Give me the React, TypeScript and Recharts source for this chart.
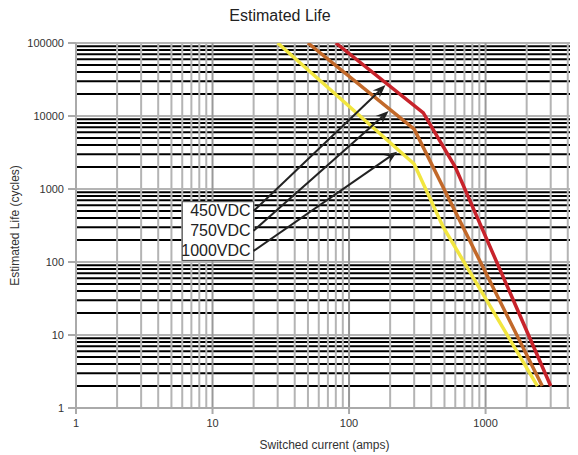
import React from "react";
import {
  LineChart,
  Line,
  XAxis,
  YAxis,
  ReferenceLine,
  ReferenceArea,
  ReferenceDot,
} from "recharts";

// switched current (amps) / estimated life (cycles)
const amps450 = [80, 350, 600, 3000];
const life450 = [100000, 11000, 2000, 2];
const amps750 = [50, 300, 2600];
const life750 = [100000, 6600, 2];
const amps1000 = [30, 300, 490, 2400];
const life1000 = [100000, 2200, 300, 2];

const seriesNames = ["450VDC", "750VDC", "1000VDC"];
const seriesColors = ["#c8232b", "#c2692a", "#f2e640"];

// where the callout arrows start (label) and end (on the curve)
const arrowFrom = [
  [20, 500],
  [20, 268],
  [20, 142],
];
const arrowTo = [
  [185, 26500],
  [195, 11700],
  [225, 3250],
];
const calloutBox = { x1: 6, x2: 20, y1: 105, y2: 670 };

const xTicks = [1, 10, 100, 1000];
const yTicks = [1, 10, 100, 1000, 10000, 100000];
const steps = [2, 3, 4, 5, 6, 7, 8, 9];
const xDecades = [1, 10, 100, 1000];
const yDecades = [1, 10, 100, 1000, 10000];

const xMinor = xDecades.flatMap((d) => steps.map((s) => s * d));
const yMinor = yDecades.flatMap((d) => steps.map((s) => s * d));

const toPoints = (xs: number[], ys: number[]) => xs.map((x, i) => ({ x, y: ys[i] }));
const series = [
  toPoints(amps450, life450),
  toPoints(amps750, life750),
  toPoints(amps1000, life1000),
];

const font = "'Liberation Sans', Arial, sans-serif";

const Arrow = (p: any) => {
  const { x1, y1, x2, y2 } = p;
  const a = Math.atan2(y2 - y1, x2 - x1);
  const len = 13;
  const half = 5;
  const c = Math.cos(a);
  const s = Math.sin(a);
  const bx = x2 - len * c;
  const by = y2 - len * s;
  const nx = x2 - len * 0.65 * c;
  const ny = y2 - len * 0.65 * s;
  const pts = [
    [x2, y2],
    [bx - half * s, by + half * c],
    [nx, ny],
    [bx + half * s, by - half * c],
  ]
    .map((q) => q.join(","))
    .join(" ");
  return (
    <g>
      <line x1={x1} y1={y1} x2={nx} y2={ny} stroke="#222" strokeWidth={2} />
      <polygon points={pts} fill="#222" />
    </g>
  );
};

export default function App() {
  return (
    <div style={{ position: "relative", width: 570, height: 447, overflow: "hidden", fontFamily: font }}>
      <div
        style={{
          position: "absolute",
          left: 172,
          top: 0,
          width: 200,
          textAlign: "center",
          fontSize: 16,
          lineHeight: "16px",
          color: "#222",
        }}
      >
        Estimated Life
      </div>
      <LineChart width={573} height={447} margin={{ top: 35, right: 0, bottom: 0, left: 0 }}>
        <XAxis
          type="number"
          dataKey="x"
          scale="log"
          domain={[1, 5000]}
          ticks={xTicks}
          allowDataOverflow
          height={47}
          tickSize={6}
          tickMargin={5}
          axisLine={{ stroke: "#aaa", strokeWidth: 2 }}
          tickLine={{ stroke: "#aaa", strokeWidth: 2 }}
          tick={{ fill: "#333", fontSize: 11, fontFamily: font }}
          label={{
            value: "Switched current (amps)",
            position: "insideBottom",
            offset: 6,
            dx: -4,
            style: { fill: "#333", fontSize: 12, fontFamily: font },
          }}
        />
        <YAxis
          type="number"
          dataKey="y"
          scale="log"
          domain={[1, 100000]}
          ticks={yTicks}
          allowDataOverflow
          width={68}
          tickSize={8}
          tickMargin={4}
          axisLine={{ stroke: "#aaa", strokeWidth: 2 }}
          tickLine={{ stroke: "#aaa", strokeWidth: 2 }}
          tick={{ fill: "#333", fontSize: 11, fontFamily: font }}
          label={{
            value: "Estimated Life (cycles)",
            angle: -90,
            position: "insideLeft",
            offset: 7,
            style: { textAnchor: "middle", fill: "#333", fontSize: 12, fontFamily: font },
          }}
        />
        {yMinor.map((v) => (
          <ReferenceLine key={"hy" + v} y={v} stroke="#000" strokeWidth={2} zIndex={-100} />
        ))}
        {[10, 100, 1000, 10000, 100000].map((v) => (
          <ReferenceLine key={"hd" + v} y={v} stroke="#b4b4b4" strokeWidth={2} zIndex={-100} />
        ))}
        {xMinor.map((v) => (
          <ReferenceLine key={"vx" + v} x={v} stroke="#b4b4b4" strokeWidth={2} zIndex={-100} />
        ))}
        {[10, 100, 1000].map((v) => (
          <ReferenceLine key={"vd" + v} x={v} stroke="#999" strokeWidth={2} zIndex={-100} />
        ))}
        {series.map((d, i) => (
          <Line
            key={seriesNames[i]}
            data={d}
            dataKey="y"
            type="linear"
            stroke={seriesColors[i]}
            strokeWidth={3.5}
            dot={false}
            activeDot={false}
            isAnimationActive={false}
          />
        ))}
        <ReferenceArea
          x1={calloutBox.x1}
          x2={calloutBox.x2}
          y1={calloutBox.y1}
          y2={calloutBox.y2}
          fill="#fff"
          fillOpacity={1}
          stroke="#444"
          strokeWidth={1}
          zIndex={1000}
        />
        {seriesNames.map((name, i) => (
          <ReferenceLine
            key={"a" + name}
            segment={[
              { x: arrowFrom[i][0], y: arrowFrom[i][1] },
              { x: arrowTo[i][0], y: arrowTo[i][1] },
            ]}
            shape={Arrow}
            zIndex={1000}
          />
        ))}
        {seriesNames.map((name, i) => (
          <ReferenceDot
            key={"t" + name}
            x={arrowFrom[i][0]}
            y={arrowFrom[i][1]}
            r={0}
            zIndex={1000}
            shape={(p: any) => (
              <text
                x={p.cx - 3}
                y={p.cy}
                textAnchor="end"
                dominantBaseline="central"
                fontSize={16}
                fontFamily={font}
                fill="#222"
              >
                {name}
              </text>
            )}
          />
        ))}
      </LineChart>
    </div>
  );
}
